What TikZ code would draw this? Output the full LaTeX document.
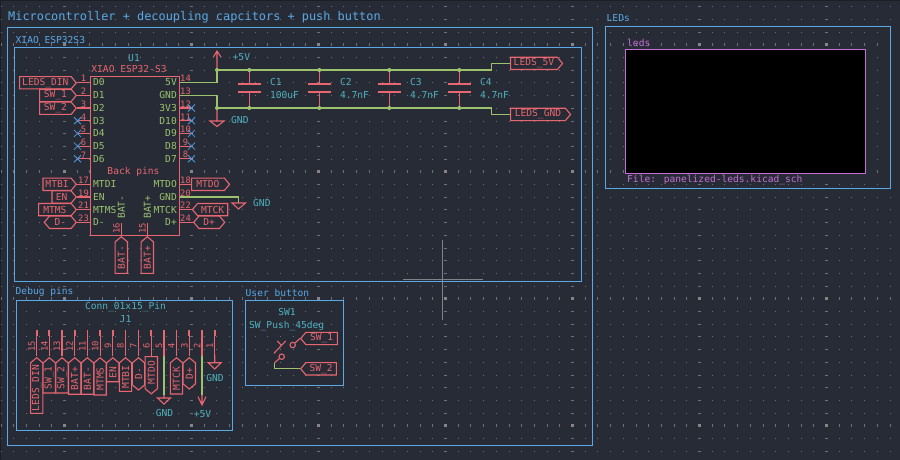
\documentclass[tikz,border=0pt]{standalone}
\usepackage{fontspec}
\setmainfont{DejaVu Sans Mono}
\usetikzlibrary{calc,positioning}
\usetikzlibrary{shapes}
\usepackage{xcolor}
\definecolor{sheetbg}{HTML}{272B36}
\definecolor{sheetedge}{HTML}{1D1F27}
\definecolor{griddot}{HTML}{6E7178}
\definecolor{gridmajor}{HTML}{858585}
\definecolor{noteblue}{HTML}{5AA9E6}
\definecolor{symred}{HTML}{E8666F}
\definecolor{wiregreen}{HTML}{9CC26E}
\definecolor{refteal}{HTML}{4FB3BF}
\definecolor{pinlabel}{HTML}{9CC26E}
\definecolor{ncblue}{HTML}{4C9BE0}
\definecolor{sheetpink}{HTML}{C56FD6}
\definecolor{crossgray}{HTML}{7F8288}
\tikzset{
	txt/.style = {inner sep=0pt, font=\fontsize{9.6}{10}\selectfont},
	note/.style = {txt, text=noteblue, anchor=west},
	notebox/.style = {draw=noteblue, line width=1pt},
	ref/.style = {txt, text=refteal},
	pinname/.style = {txt, text=pinlabel},
	pinnum/.style = {inner sep=0pt, text=symred, font=\fontsize{8.8}{9}\selectfont},
	pinline/.style = {draw=symred, line width=1.1pt},
	wire/.style = {draw=wiregreen, line width=1.1pt},
	dotj/.style = {circle, fill=wiregreen, inner sep=0pt, minimum size=4pt},
	plate/.style = {draw=symred, line width=2.4pt},
	hlabel/.style = {draw=symred, line width=1.1pt, text=symred, txt, inner sep=0pt, signal, signal pointer angle=100, minimum height=12.3pt, fill=sheetbg},
}
\newcommand{\ncmark}[2]{\draw[ncblue, line width=0.8pt] (#1-3.5,#2-3.5) -- (#1+3.5,#2+3.5) (#1-3.5,#2+3.5) -- (#1+3.5,#2-3.5);}
\begin{document}
\begin{tikzpicture}[x=1pt,y=-1pt]
	\fill[sheetbg] (0,0) rectangle (900,460);
	\useasboundingbox (0,0) rectangle (900,460);
	\fill[sheetedge] (0,0) rectangle (900,1) (0,0) rectangle (1,460);
	% grid
	\foreach \gx in {0,...,70} \foreach \gy in {0,...,36}
		\fill[griddot] ({round(0.6+12.7*\gx)},{round(6.3+12.7*\gy)}) rectangle ++(1,1);
	\foreach \gy in {43,170,297,424} \foreach \gx in {0,...,70}
		\fill[griddot] ({round(0.6+12.7*\gx)},\gy) rectangle ++(1,3);
	\foreach \gx in {63,190,317,444,571,698,825} \foreach \gy in {0,...,36}
		\fill[griddot] (\gx,{round(6.3+12.7*\gy)}) rectangle ++(3,1);
	\foreach \gx in {63,190,317,444,571,698,825} \foreach \gy in {43,170,297,424}
		\fill[gridmajor] (\gx,\gy) rectangle ++(3,3);
	% cross cursor
	\draw[crossgray, line width=0.9pt] (403,279.3) -- (483,279.3) (442.5,240) -- (442.5,320);
	% notes
	\node[note, font=\fontsize{11.9}{12}\selectfont] (title) at (8,17) {Microcontroller + decoupling capcitors + push button};
	\node[note] (xiaotitle) at (15.5,40.5) {XIAO ESP32S3};
	\node[note] (debugtitle) at (15.5,292) {Debug pins};
	\node[note] (usertitle) at (245.5,293) {User button};
	\node[note] (ledstitle) at (606.5,18.5) {LEDs};
	\draw[notebox] (7.5,27.5) rectangle (592,445);
	\draw[notebox] (14.5,47.5) rectangle (581.5,281.5);
	\draw[notebox] (16.5,300) rectangle (232.5,430);
	\draw[notebox] (245.5,300.5) rectangle (343.5,385.5);
	\draw[notebox] (605.5,26.5) rectangle (890.5,188.5);
	% sheet
	\draw[draw=sheetpink, fill=black, line width=1pt] (625.5,49.5) rectangle (865.5,173.5);
	\node[txt, text=sheetpink, anchor=west] (sheetname) at (627,42.5) {leds};
	\node[txt, text=sheetpink, anchor=west] (sheetfile) at (627,180) {File: panelized-leds.kicad\_sch};
	% U1
	\draw[pinline, fill=sheetbg] (90.5,76.5) rectangle (179.5,235.5);
	\node[ref] (u1) at (134,58.5) {U1};
	\node[txt, text=symred] (u1val) at (129,69) {XIAO ESP32-S3};
	\node[txt, text=symred] (backpins) at (133.5,172) {Back pins};
	\foreach \pname/\y/\pnum in {D0/82.5/1,D1/95.2/2,D2/108/3,D3/120.7/4,D4/133.4/5,D5/146.1/6,D6/158.8/7,MTDI/184.3/17,EN/197/19,MTMS/209.6/21,D-/222.3/23}{
		\draw[pinline] (77,\y) -- (90.5,\y);
		\node[pinname, anchor=west] (u1l\pnum) at (93,\y) {\pname};
		\node[pinnum, anchor=south] at (83.5,\y-0.5) {\pnum};
	}
	\foreach \pname/\y/\pnum in {5V/82.5/14,GND/95.2/13,3V3/108/12,D10/120.7/11,D9/133.4/10,D8/146.1/9,D7/158.8/8,MTDO/184.3/18,GND/197/20,MTCK/209.6/22,D+/222.3/24}{
		\draw[pinline] (179.5,\y) -- (192.5,\y);
		\node[pinname, anchor=east] (u1r\pnum) at (177,\y) {\pname};
		\node[pinnum, anchor=south] at (185.5,\y-0.5) {\pnum};
	}
	\foreach \y in {120.7,133.4,146.1,158.8} {\ncmark{77.5}{\y}}
	\foreach \y in {108,120.7,133.4,146.1,158.8} {\ncmark{191.5}{\y}}
	% bottom pins
	\foreach \pname/\x/\pnum in {BAT-/121.3/16,BAT+/147.3/15}{
		\draw[pinline] (\x,223) -- (\x,236);
		\node[pinname, rotate=90] (u1b\pnum) at (\x,207) {\pname};
		\node[pinnum, rotate=90] at (\x-4.8,228) {\pnum};
	}
	% labels on the left side of U1
	\node[hlabel, anchor=east, signal to=east, minimum width=56.7pt] (ledsdin) at (77,82.8) {LEDS\_DIN};
	\node[hlabel, anchor=east, signal to=east, minimum width=36.7pt] (sw1) at (77,95.4) {SW\_1};
	\node[hlabel, anchor=east, signal to=east, minimum width=36.7pt] (sw2) at (77,108.2) {SW\_2};
	\node[hlabel, anchor=east, signal to=east, minimum width=33.3pt] (mtbi) at (77,184.3) {MTBI};
	\node[hlabel, anchor=east, signal to=east, minimum width=24.3pt] (en) at (77,197) {EN};
	\node[hlabel, anchor=east, signal to=east, minimum width=37.7pt] (mtms) at (77,209.6) {MTMS};
	\node[hlabel, anchor=east, signal to=east and west, minimum width=32pt] (dm) at (77,222.3) {D-};
	\node[hlabel, anchor=west, signal to=east, minimum width=38pt] (mtdo) at (191,184.3) {MTDO};
	\node[hlabel, anchor=east, signal to=west, minimum width=35.3pt] (mtck) at (228.3,209.6) {MTCK};
	\node[hlabel, anchor=west, signal to=east and west, minimum width=31pt] (dp) at (193,222.3) {D+};
	\node[hlabel, anchor=east, rotate=90, signal to=east, minimum width=36.7pt] (batm) at (121.3,236) {BAT-};
	\node[hlabel, anchor=east, rotate=90, signal to=east, minimum width=36.7pt] (batp) at (147.3,236) {BAT+};
	% power nets
	\coordinate (railtop) at (217,70);
	\coordinate (railbot) at (217,108);
	\draw[wire] (179.5,82.5) -| (railtop);
	\draw[wire] (179.5,95.2) -| (railbot);
	\draw[wire] (railtop) -- (491.7,70) |- (510,63.4);
	\draw[wire] (railbot) -- (491.7,108) |- (510,114.4);
	\node[hlabel, anchor=west, signal to=east, minimum width=52pt] (leds5v) at (510,63.4) {LEDS\_5V};
	\node[hlabel, anchor=west, signal to=east, minimum width=60pt] (ledsgnd) at (510,114.4) {LEDS\_GND};
	\draw[pinline] (railtop) -- (217,51) (213.2,57.3) -- (217,51) -- (221.2,57.3);
	\draw[pinline] (railbot) -- (217,121) (210,121) -- (224,121) -- (217,126.5) -- cycle;
	\node[ref, anchor=west] (plus5v) at (232.5,57.5) {+5V};
	\node[ref, anchor=west] (gndtop) at (231,120) {GND};
	\node[dotj] (jt) at (railtop) {};
	\node[dotj] (jb) at (railbot) {};
	% capacitors
	\foreach \capx/\capname/\capval in {249.3/C1/100uF,319.3/C2/4.7nF,389.3/C3/4.7nF,459.3/C4/4.7nF}{
		\draw[pinline] (\capx,70) -- (\capx,84.3) (\capx,92.3) -- (\capx,108);
		\draw[plate] (\capx-11.5,84.3) -- (\capx+11.5,84.3) (\capx-11.5,92.3) -- (\capx+11.5,92.3);
		\node[dotj] (top\capname) at (\capx,70) {};
		\node[dotj] (bot\capname) at (\capx,108) {};
		\node[ref, anchor=west] (name\capname) at (\capx+20.5,82.5) {\capname};
		\node[ref, anchor=west] (val\capname) at (\capx+20.5,95) {\capval};
	}
	% back GND
	\draw[wire] (179.5,197) -| (238.5,203);
	\draw[pinline] (232,203) -- (245.5,203) -- (238.5,209) -- cycle;
	\node[ref, anchor=west] (gndback) at (253,203.5) {GND};
	% J1
	\node[ref] (j1val) at (125.5,307) {Conn\_01x15\_Pin};
	\node[ref] (j1) at (125.5,319.5) {J1};
	\foreach \pnum/\x in {15/36.7,14/49.3,13/62,12/74.7,11/87.4,10/100.1,9/112.8,8/125.5,7/138.5,6/151.3,5/164,4/176.5,3/189.3,2/202,1/214.7}{
		\draw[symred, line width=1.7pt] (\x,330) -- (\x,336);
		\draw[pinline] (\x,336) -- (\x,355.5);
		\node[pinnum, rotate=90] (j1n\pnum) at (\x-5,346) {\pnum};
	}
	\node[hlabel, anchor=east, rotate=90, signal to=east, minimum width=55.7pt] (j1leds) at (36.7,357) {LEDS\_DIN};
	\node[hlabel, anchor=east, rotate=90, signal to=east, minimum width=35.3pt] (j1sw1) at (49.3,357) {SW\_1};
	\node[hlabel, anchor=east, rotate=90, signal to=east, minimum width=35.3pt] (j1sw2) at (62,357) {SW\_2};
	\node[hlabel, anchor=east, rotate=90, signal to=east, minimum width=36.5pt] (j1batp) at (74.7,357) {BAT+};
	\node[hlabel, anchor=east, rotate=90, signal to=east, minimum width=36.5pt] (j1batm) at (87.4,357) {BAT-};
	\node[hlabel, anchor=east, rotate=90, signal to=east, minimum width=37.3pt] (j1mtms) at (100.1,357) {MTMS};
	\node[hlabel, anchor=east, rotate=90, signal to=east, minimum width=24pt] (j1en) at (112.8,357) {EN};
	\node[hlabel, anchor=east, rotate=90, signal to=east, minimum width=33.7pt] (j1mtbi) at (125.5,357) {MTBI};
	\node[hlabel, anchor=east, rotate=90, signal to=east and west, minimum width=32.3pt] (j1dm) at (138.5,357) {D-};
	\node[hlabel, anchor=east, rotate=90, signal to=west, minimum width=37.3pt] (j1mtdo) at (151.3,356) {MTDO};
	\node[hlabel, anchor=east, rotate=90, signal to=east, minimum width=36.3pt] (j1mtck) at (176.5,357) {MTCK};
	\node[hlabel, anchor=east, rotate=90, signal to=east and west, minimum width=31.3pt] (j1dp) at (189.3,357) {D+};
	\draw[wire] (164,355.5) -- (164,395);
	\draw[pinline] (164,395) -- (164,398) (157.5,398) -- (170.5,398) -- (164,404) -- cycle;
	\node[ref] (gndfive) at (164.5,413.3) {GND};
	\draw[wire] (202,355.5) -- (202,395);
	\draw[pinline] (202,395) -- (202,405) (198,396.7) -- (202,405) -- (206,396.7);
	\node[ref] (plus5vj) at (202.5,414.3) {+5V};
	\draw[pinline] (214.7,355) -- (214.7,362.7) (208.2,362.7) -- (221.2,362.7) -- (214.7,369) -- cycle;
	\node[ref] (gndone) at (215,377.7) {GND};
	% SW1
	\node[ref] (sw) at (287,312.5) {SW1};
	\node[ref] (swval) at (286.7,325.5) {SW\_Push\_45deg};
	\node[hlabel, anchor=west, signal to=west, minimum width=36.7pt] (swa) at (300,338.5) {SW\_1};
	\node[hlabel, anchor=west, signal to=west, minimum width=35.7pt] (swb) at (300,368.8) {SW\_2};
	\draw[pinline] (274,353.3) -- (285.7,341) (277.3,341) -- (281.7,345.7);
	\node[circle, draw=symred, line width=1.1pt, inner sep=0pt, minimum size=5.4pt] (cona) at (292.7,345) {};
	\node[circle, draw=symred, line width=1.1pt, inner sep=0pt, minimum size=5.4pt] (conb) at (281.7,356.7) {};
	\draw[pinline] (cona) -- (swa.west);
	\draw[pinline] (conb) -- (274.5,362.7);
	\draw[wire] (274.5,362.7) |- (swb.west);
\end{tikzpicture}
\end{document}
